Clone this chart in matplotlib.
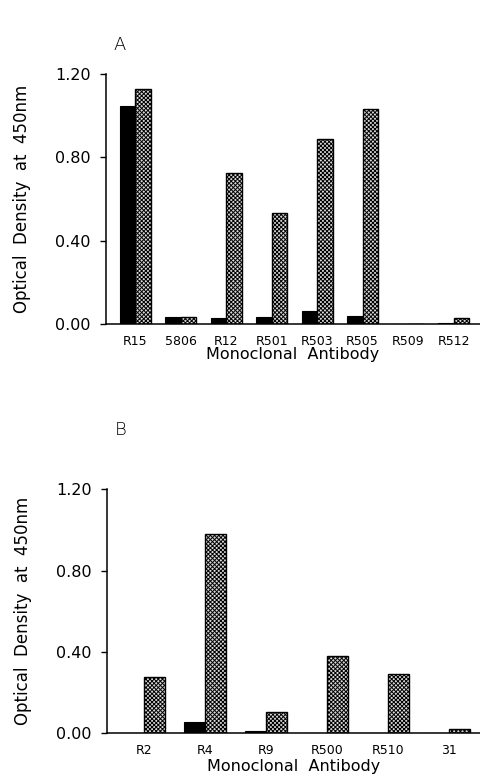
import matplotlib
matplotlib.use('Agg')
import matplotlib.pyplot as plt
import numpy as np

plt.rcParams['font.family'] = ['DejaVu Sans']
plt.rcParams['hatch.linewidth'] = 0.7

# panel A
labels_a = ['R15', '5806', 'R12', 'R501', 'R503', 'R505', 'R509', 'R512']
solid_a = [1.047, 0.035, 0.030, 0.035, 0.062, 0.040, 0.000, 0.005]
hatch_a = [1.127, 0.035, 0.726, 0.534, 0.886, 1.030, 0.002, 0.030]

# panel B
labels_b = ['R2', 'R4', 'R9', 'R500', 'R510', '31']
solid_b = [0.003, 0.057, 0.013, 0.000, 0.003, 0.002]
hatch_b = [0.278, 0.980, 0.103, 0.380, 0.290, 0.020]

yticks = [0.0, 0.4, 0.8, 1.2]


def draw_panel(ax, labels, solid, hatched, xlim, width, letter, letter_y, xlabelpad):
    x = np.arange(len(labels))
    ax.bar(x - width / 2, solid, width, color='black', edgecolor='black', linewidth=0.8)
    ax.bar(x + width / 2, hatched, width, color='#d8d8d8', edgecolor='black',
           hatch='xxxxxxxx', linewidth=1.0)
    ax.set_xlim(*xlim)
    ax.set_ylim(0, 1.2)
    ax.set_yticks(yticks)
    ax.set_yticklabels(['%.2f' % v for v in yticks], fontsize=11.5)
    ax.set_xticks(x)
    ax.set_xticklabels(labels, fontsize=9)
    ax.tick_params(axis='x', length=0, pad=8)
    ax.tick_params(axis='y', length=4, width=1, direction='out', pad=7)
    for side in ['top', 'right']:
        ax.spines[side].set_visible(False)
    for side in ['left', 'bottom']:
        ax.spines[side].set_linewidth(1.1)
    ax.set_ylabel('Optical  Density  at  450nm', fontsize=12, labelpad=17)
    ax.set_xlabel('Monoclonal  Antibody', fontsize=11.5, labelpad=xlabelpad)
    ax.text(0.02, letter_y, letter, transform=ax.transAxes, fontsize=13,
            fontweight='light', va='center', ha='left')


fig = plt.figure(figsize=(4.8, 7.8), dpi=100)
ax_a = fig.add_axes([0.2208, 0.5846, 0.7792, 0.3205])
ax_b = fig.add_axes([0.2229, 0.0599, 0.7771, 0.3128])

draw_panel(ax_a, labels_a, solid_a, hatch_a, (-0.64, 7.58), 0.34, 'A', 1.0 + 29 / 250, -1)
draw_panel(ax_b, labels_b, solid_b, hatch_b, (-0.607, 5.51), 0.34, 'B', 1.0 + 59 / 244, 1)

fig.savefig('out.png', dpi=100)
